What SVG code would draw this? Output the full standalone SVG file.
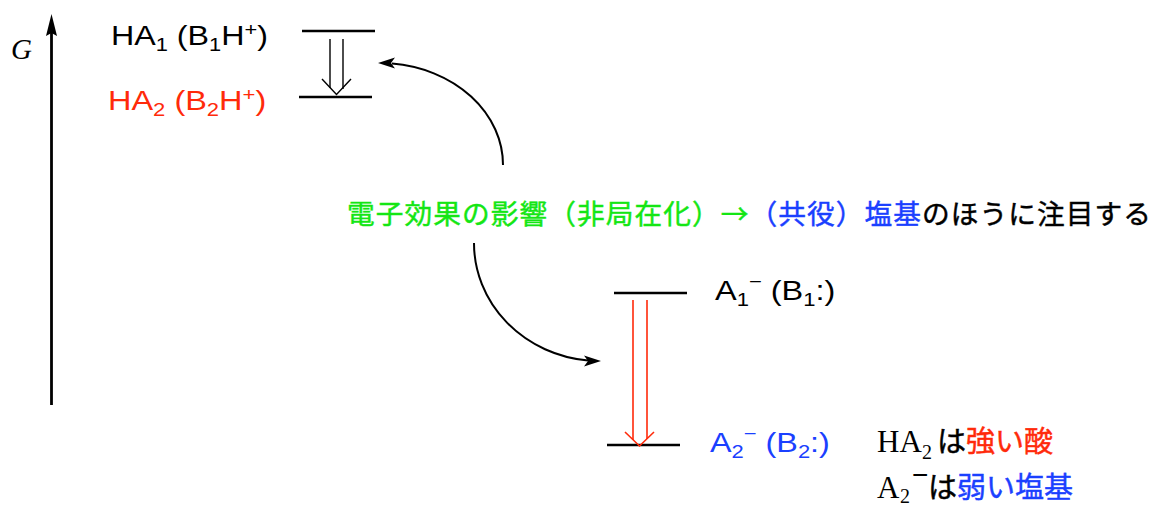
<svg xmlns="http://www.w3.org/2000/svg" width="1164" height="505" viewBox="0 0 1164 505">
<style>
.sans{font-family:"Liberation Sans",Arial,sans-serif;font-size:28px}
.serif{font-family:"Liberation Serif","Times New Roman",serif}
.jp{font-family:"Noto Sans CJK JP","Noto Sans CJK SC",sans-serif;stroke-width:0.45px}
.sub{font-size:19px}
.lvl{stroke:#000;stroke-width:2.7;fill:none}
.red{fill:#ff2a0a;stroke:#ff2a0a}
.blue{fill:#1a40ff;stroke:#1a40ff}
.green{fill:#14e614;stroke:#14e614}
.blk{fill:#000;stroke:#000}
</style>
<rect width="1164" height="505" fill="#fff"/>
<g id="axis">
<line x1="51.5" y1="405" x2="51.5" y2="32" stroke="#000" stroke-width="2.8"/>
<path d="M51.5,14 L57,36 L51.5,33 L46,36 Z" fill="#000"/>
<text class="serif" x="11" y="59" font-size="29" font-style="italic">G</text>
</g>
<g id="level-HA1">
<line class="lvl" x1="302" y1="31" x2="375" y2="31"/>
<text class="sans" transform="translate(111,45) scale(1.15,1)">HA<tspan class="sub" dy="6">1</tspan><tspan dy="-6"> (B</tspan><tspan class="sub" dy="6">1</tspan><tspan dy="-6">H</tspan><tspan class="sub" dy="-9">+</tspan><tspan dy="9">)</tspan></text>
</g>
<g id="level-HA2">
<line class="lvl" x1="299" y1="97" x2="372" y2="97"/>
<text class="sans" fill="#ff2a0a" transform="translate(108,110) scale(1.16,1)">HA<tspan class="sub" dy="6">2</tspan><tspan dy="-6"> (B</tspan><tspan class="sub" dy="6">2</tspan><tspan dy="-6">H</tspan><tspan class="sub" dy="-9">+</tspan><tspan dy="9">)</tspan></text>
</g>
<g id="level-A1">
<line class="lvl" x1="614" y1="293" x2="687" y2="293"/>
<text class="sans" transform="translate(715,300) scale(1.16,1)">A<tspan class="sub" dy="6">1</tspan><tspan class="sub" dy="-18">−</tspan><tspan dy="12"> (B</tspan><tspan class="sub" dy="6">1</tspan><tspan dy="-6">:)</tspan></text>
</g>
<g id="level-A2">
<line class="lvl" x1="607" y1="445" x2="680" y2="445"/>
<text class="sans" fill="#1a40ff" transform="translate(710,452) scale(1.155,1)">A<tspan class="sub" dy="6">2</tspan><tspan class="sub" dy="-18">−</tspan><tspan dy="12"> (B</tspan><tspan class="sub" dy="6">2</tspan><tspan dy="-6">:)</tspan></text>
</g>
<g id="connectors" fill="none">
<g stroke="#000" stroke-width="1.4">
<path d="M330,39 V88"/>
<path d="M343,39 V89"/>
<path d="M322,79 L336.5,94.5 L351,79"/>
</g>
<g stroke="#ff2a0a" stroke-width="1.6">
<path d="M633,300 V440"/>
<path d="M647,300 V439"/>
<path d="M625,432 L639.5,446 L654,432"/>
</g>
<path d="M503,165 A123,102 0 0 0 392,63.5" stroke="#000" stroke-width="2"/>
<path d="M378,63 L395,57.5 L391,63 L395,68.5 Z" fill="#000"/>
<path d="M474,243 A126,118 0 0 0 588,360.5" stroke="#000" stroke-width="2"/>
<path d="M601,361 L584,355.5 L588,361 L584,366.5 Z" fill="#000"/>
</g>
<g id="caption">
<text class="jp" x="347" y="224" font-size="27.7" textLength="804" lengthAdjust="spacing"><tspan class="green">電子効果の影響（非局在化）→</tspan><tspan class="blue">（共役）塩基</tspan><tspan class="blk">のほうに注目する</tspan></text>
</g>
<g id="note">
<text y="452"><tspan class="serif" x="877" font-size="31">HA</tspan><tspan class="serif" x="922" y="459" font-size="20">2</tspan><tspan class="jp blk" x="937" y="452" font-size="29">は</tspan><tspan class="jp red" font-size="29">強い酸</tspan></text>
<text y="498"><tspan class="serif" x="877" font-size="31">A</tspan><tspan class="serif" x="900" y="503" font-size="20">2</tspan><tspan class="sans" x="912" y="484" font-size="19px">−</tspan><tspan class="jp blk" x="928" y="498" font-size="29">は</tspan><tspan class="jp blue" font-size="29">弱い塩基</tspan></text>
</g>
</svg>
